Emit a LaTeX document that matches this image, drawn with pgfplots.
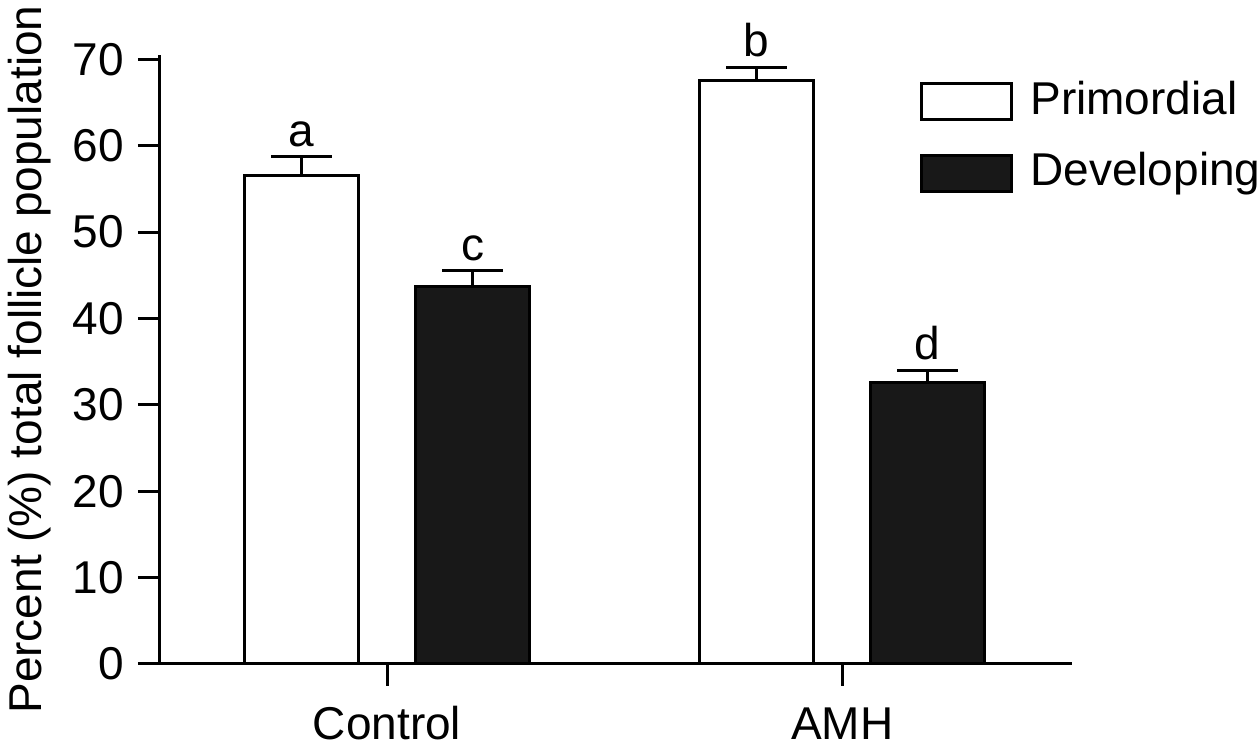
\documentclass[border=0pt]{standalone}
\usepackage{fontspec}
\setmainfont{Liberation Sans}
\usepackage{pgfplots}
\pgfplotsset{compat=1.18}
\definecolor{barblack}{HTML}{181818}
\newcommand{\fs}{\fontsize{23}{27.6}\selectfont}
\pgfplotsset{boxlegend/.style={legend image code/.code={\draw[##1,line width=1.5pt] (0pt,-10.5pt) rectangle (45pt,7.5pt);}}}
\begin{document}
\begin{tikzpicture}
\begin{axis}[
  at={(0pt,0pt)}, anchor=south west,
  scale only axis, width=456pt, height=304.5pt,
  xmin=-0.499, xmax=1.505, ymin=0, ymax=70.5,
  axis lines*=left,
  axis line style={line width=1.5pt, black},
  xtick={0,1}, xticklabels={Control,AMH},
  ytick={0,10,...,70},
  tick align=outside, major tick length=11pt,
  tick style={line width=1.5pt, black},
  /pgf/number format/assume math mode=true,
  ticklabel style={font=\fs},
  xticklabel style={anchor=base, yshift=-27pt, inner sep=0pt},
  yticklabel style={anchor=east, inner sep=0pt, xshift=-7pt},
  ylabel={Percent (\%) total follicle population},
  ylabel style={font=\fs, at={([xshift=-59pt]axis description cs:0,0.5)}, anchor=base, inner sep=0pt},
  legend style={at={(axis description cs:0.8333,0.965)}, anchor=north west, draw=none, fill=none,
    inner sep=0pt, font=\fs, row sep=13.5pt, column sep=6.5pt, cells={anchor=west}},
  legend cell align=left,
  clip=false,
  every node near coord/.append style={font=\fs, anchor=south, inner sep=0pt, yshift=5pt, text=black},
]
\addplot[ybar, bar width=57pt, bar shift=0pt, fill=white, draw=black, line width=1.5pt, boxlegend,
  error bars/.cd, y dir=plus, y explicit,
  error bar style={line width=1.5pt, black},
  error mark options={rotate=90, mark size=15.25pt, line width=1.5pt, black}]
  coordinates {(-0.188,56.5) +- (0,2.2) (0.812,67.6) +- (0,1.5)};
\addlegendentry{Primordial}
\addplot[ybar, bar width=57pt, bar shift=0pt, fill=barblack, draw=black, line width=1.5pt, boxlegend,
  error bars/.cd, y dir=plus, y explicit,
  error bar style={line width=1.5pt, black},
  error mark options={rotate=90, mark size=15.25pt, line width=1.5pt, black}]
  coordinates {(0.188,43.65) +- (0,1.85) (1.188,32.55) +- (0,1.4)};
\addlegendentry{Developing}
\addplot[draw=none, mark=none, forget plot,
  point meta=explicit symbolic, nodes near coords]
  coordinates {(-0.188,58.7) [a] (0.812,69.1) [b] (0.188,45.5) [c] (1.188,33.95) [d]};
\end{axis}
\pgfresetboundingbox
\path (-80pt,-42.5pt) rectangle (550pt,332pt);
\end{tikzpicture}
\end{document}
